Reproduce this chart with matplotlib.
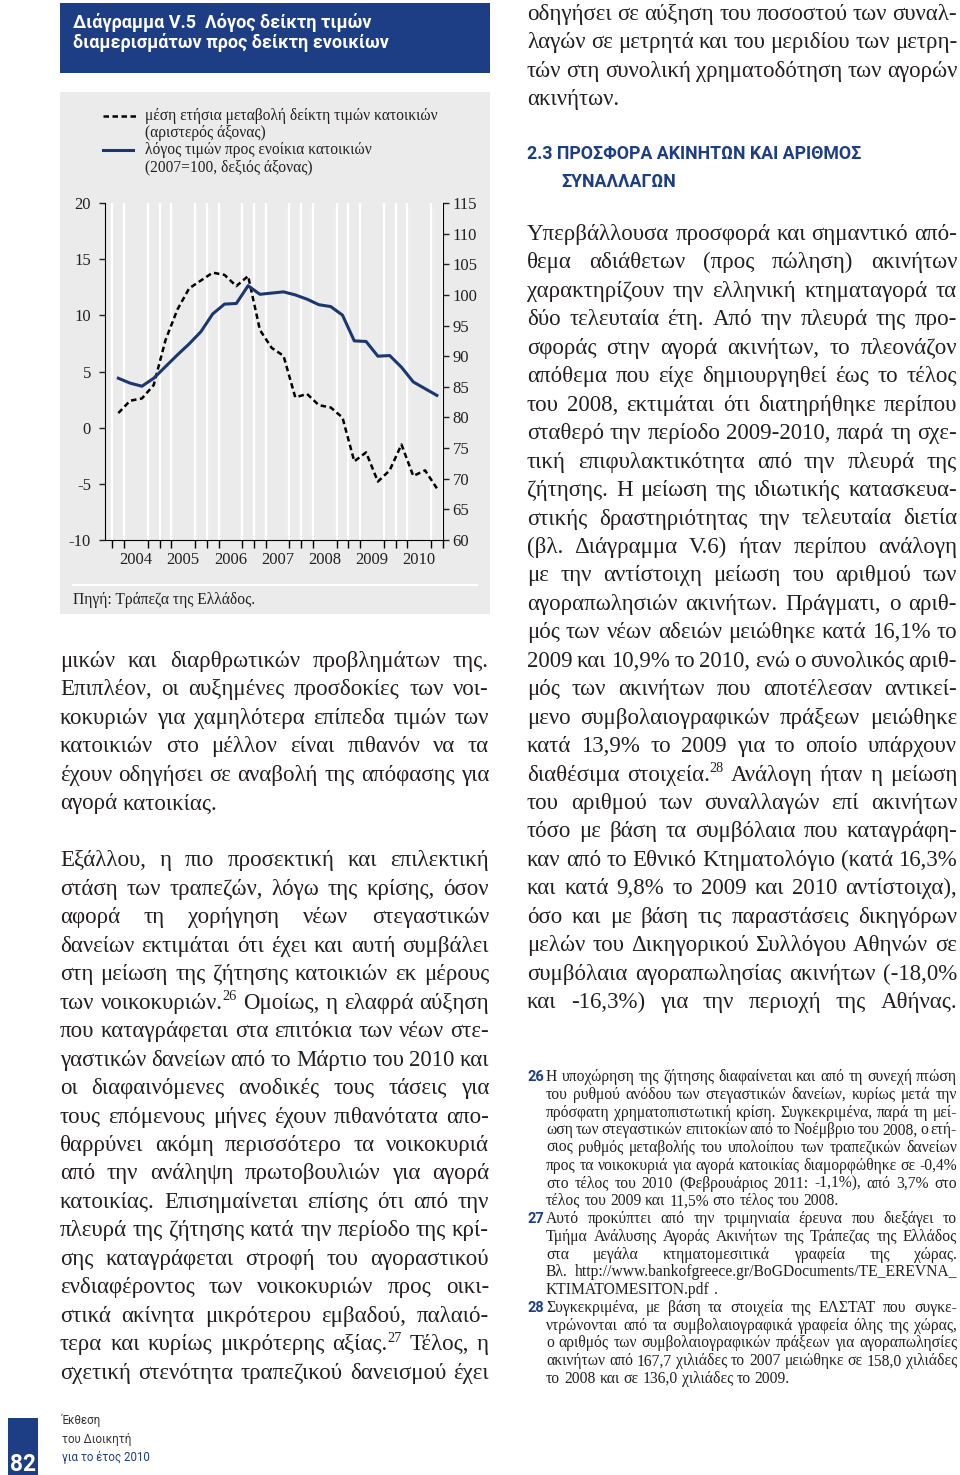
import matplotlib
matplotlib.use('Agg')
import matplotlib.pyplot as plt
from matplotlib.patches import Rectangle
from matplotlib.font_manager import FontProperties

plt.rcParams['font.family'] = ['Liberation Serif', 'DejaVu Serif']
plt.rcParams['axes.unicode_minus'] = False

BLUE = '#1d3e84'
LINE_BLUE = '#1b3770'
PANEL = '#ebebeb'
INK = '#231f20'
SERIF = ['Liberation Serif', 'DejaVu Serif']
NARROW = ['Liberation Sans Narrow', 'Roboto', 'DejaVu Sans']

# chart data, quarterly 2004Q1 - 2010Q4
quarters = list(range(28))
years = ['2004', '2005', '2006', '2007', '2008', '2009', '2010']
price_change = [1.3, 2.4, 2.6, 3.8, 7.8, 10.5, 12.4, 13.1, 13.8, 13.6, 12.6, 13.5,
                8.7, 7.1, 6.4, 2.7, 3.0, 2.0, 1.8, 0.9, -3.0, -2.2, -4.8, -3.8,
                -1.5, -4.3, -3.8, -5.4]
price_rent = [86.4, 85.6, 85.1, 86.4, 88.3, 90.2, 92.0, 94.0, 96.9, 98.5, 98.6, 101.5,
              100.1, 100.3, 100.5, 100.0, 99.3, 98.4, 98.1, 96.7, 92.5, 92.4, 90.0, 90.1,
              88.2, 85.8, 84.7, 83.6]
left_ticks = [-10, -5, 0, 5, 10, 15, 20]
right_ticks = [60, 65, 70, 75, 80, 85, 90, 95, 100, 105, 110, 115]

chart_title = ['Διάγραμμα V.5  Λόγος δείκτη τιμών',
               'διαμερισμάτων προς δείκτη ενοικίων']
legend_dashed = ['μέση ετήσια μεταβολή δείκτη τιμών κατοικιών', '(αριστερός άξονας)']
legend_solid = ['λόγος τιμών προς ενοίκια κατοικιών', '(2007=100, δεξιός άξονας)']
source = 'Πηγή: Τράπεζα της Ελλάδος.'

left_par1 = [
    'μικών και διαρθρωτικών προβλημάτων της.',
    'Επιπλέον, οι αυξημένες προσδοκίες των νοι-',
    'κοκυριών για χαμηλότερα επίπεδα τιμών των',
    'κατοικιών στο μέλλον είναι πιθανόν να τα',
    'έχουν οδηγήσει σε αναβολή της απόφασης για',
    'αγορά κατοικίας.',
]
left_par2 = [
    'Εξάλλου, η πιο προσεκτική και επιλεκτική',
    'στάση των τραπεζών, λόγω της κρίσης, όσον',
    'αφορά τη χορήγηση νέων στεγαστικών',
    'δανείων εκτιμάται ότι έχει και αυτή συμβάλει',
    'στη μείωση της ζήτησης κατοικιών εκ μέρους',
    'των νοικοκυριών.^26 Ομοίως, η ελαφρά αύξηση',
    'που καταγράφεται στα επιτόκια των νέων στε-',
    'γαστικών δανείων από το Μάρτιο του 2010 και',
    'οι διαφαινόμενες ανοδικές τους τάσεις για',
    'τους επόμενους μήνες έχουν πιθανότατα απο-',
    'θαρρύνει ακόμη περισσότερο τα νοικοκυριά',
    'από την ανάληψη πρωτοβουλιών για αγορά',
    'κατοικίας. Επισημαίνεται επίσης ότι από την',
    'πλευρά της ζήτησης κατά την περίοδο της κρί-',
    'σης καταγράφεται στροφή του αγοραστικού',
    'ενδιαφέροντος των νοικοκυριών προς οικι-',
    'στικά ακίνητα μικρότερου εμβαδού, παλαιό-',
    'τερα και κυρίως μικρότερης αξίας.^27 Τέλος, η',
    'σχετική στενότητα τραπεζικού δανεισμού έχει',
]
right_top = [
    'οδηγήσει σε αύξηση του ποσοστού των συναλ-',
    'λαγών σε μετρητά και του μεριδίου των μετρη-',
    'τών στη συνολική χρηματοδότηση των αγορών',
    'ακινήτων.',
]
heading = ['2.3 ΠΡΟΣΦΟΡΑ ΑΚΙΝΗΤΩΝ ΚΑΙ ΑΡΙΘΜΟΣ', 'ΣΥΝΑΛΛΑΓΩΝ']
right_body = [
    'Υπερβάλλουσα προσφορά και σημαντικό από-',
    'θεμα αδιάθετων (προς πώληση) ακινήτων',
    'χαρακτηρίζουν την ελληνική κτηματαγορά τα',
    'δύο τελευταία έτη. Από την πλευρά της προ-',
    'σφοράς στην αγορά ακινήτων, το πλεονάζον',
    'απόθεμα που είχε δημιουργηθεί έως το τέλος',
    'του 2008, εκτιμάται ότι διατηρήθηκε περίπου',
    'σταθερό την περίοδο 2009-2010, παρά τη σχε-',
    'τική επιφυλακτικότητα από την πλευρά της',
    'ζήτησης. Η μείωση της ιδιωτικής κατασκευα-',
    'στικής δραστηριότητας την τελευταία διετία',
    '(βλ. Διάγραμμα V.6) ήταν περίπου ανάλογη',
    'με την αντίστοιχη μείωση του αριθμού των',
    'αγοραπωλησιών ακινήτων. Πράγματι, ο αριθ-',
    'μός των νέων αδειών μειώθηκε κατά 16,1% το',
    '2009 και 10,9% το 2010, ενώ ο συνολικός αριθ-',
    'μός των ακινήτων που αποτέλεσαν αντικεί-',
    'μενο συμβολαιογραφικών πράξεων μειώθηκε',
    'κατά 13,9% το 2009 για το οποίο υπάρχουν',
    'διαθέσιμα στοιχεία.^28 Ανάλογη ήταν η μείωση',
    'του αριθμού των συναλλαγών επί ακινήτων',
    'τόσο με βάση τα συμβόλαια που καταγράφη-',
    'καν από το Εθνικό Κτηματολόγιο (κατά 16,3%',
    'και κατά 9,8% το 2009 και 2010 αντίστοιχα),',
    'όσο και με βάση τις παραστάσεις δικηγόρων',
    'μελών του Δικηγορικού Συλλόγου Αθηνών σε',
    'συμβόλαια αγοραπωλησίας ακινήτων (-18,0%',
    'και -16,3%) για την περιοχή της Αθήνας.',
]
footnotes = [
    ('26', [
        'Η υποχώρηση της ζήτησης διαφαίνεται και από τη συνεχή πτώση',
        'του ρυθμού ανόδου των στεγαστικών δανείων, κυρίως μετά την',
        'πρόσφατη χρηματοπιστωτική κρίση. Συγκεκριμένα, παρά τη μεί-',
        'ωση των στεγαστικών επιτοκίων από το Νοέμβριο του 2008, ο ετή-',
        'σιος ρυθμός μεταβολής του υπολοίπου των τραπεζικών δανείων',
        'προς τα νοικοκυριά για αγορά κατοικίας διαμορφώθηκε σε -0,4%',
        'στο τέλος του 2010 (Φεβρουάριος 2011: -1,1%), από 3,7% στο',
        'τέλος του 2009 και 11,5% στο τέλος του 2008.',
    ]),
    ('27', [
        'Αυτό προκύπτει από την τριμηνιαία έρευνα που διεξάγει το',
        'Τμήμα Ανάλυσης Αγοράς Ακινήτων της Τράπεζας της Ελλάδος',
        'στα μεγάλα κτηματομεσιτικά γραφεία της χώρας.',
        'Βλ. http://www.bankofgreece.gr/BoGDocuments/TE_EREVNA_',
        'KTIMATOMESITON.pdf .',
    ]),
    ('28', [
        'Συγκεκριμένα, με βάση τα στοιχεία της ΕΛΣΤΑΤ που συγκε-',
        'ντρώνονται από τα συμβολαιογραφικά γραφεία όλης της χώρας,',
        'ο αριθμός των συμβολαιογραφικών πράξεων για αγοραπωλησίες',
        'ακινήτων από 167,7 χιλιάδες το 2007 μειώθηκε σε 158,0 χιλιάδες',
        'το 2008 και σε 136,0 χιλιάδες το 2009.',
    ]),
]
footer = ['Έκθεση', 'του Διοικητή', 'για το έτος 2010']
page_no = '82'

fig = plt.figure(figsize=(9.6, 14.75), dpi=100)
page = fig.add_axes([0, 0, 1, 1])
page.set_xlim(0, 960)
page.set_ylim(1475, 0)
page.axis('off')
rend = fig.canvas.get_renderer()


def width(s, fp):
    return rend.get_text_width_height_descent(s, fp, ismath=False)[0]


def fitted(s, target, **kw):
    fp = FontProperties(size=10, **kw)
    fp.set_size(10 * target / width(s, fp))
    return fp


def sup_of(fp):
    sp = fp.copy()
    sp.set_size(fp.get_size() * 0.62)
    return sp


def word_widths(words, fp):
    sp = sup_of(fp)
    out = []
    for w in words:
        base, _, sup = w.partition('^')
        out.append(width(base, fp) + (width(sup, sp) if sup else 0))
    return out


def space_of(fp):
    return width('a a', fp) - width('aa', fp)


def fit_size(lines, avail, family, squeeze=0.75):
    # largest size at which every justified line fits with slightly squeezed spaces
    fp = FontProperties(family=family, size=10)
    sp = space_of(fp) * squeeze
    best = 100
    for line in lines:
        words = line.split()
        natural = sum(word_widths(words, fp)) + sp * (len(words) - 1)
        best = min(best, 10 * avail / natural)
    return best


def put_line(line, x0, x1, y, fp, justify=True, color=INK):
    sp = sup_of(fp)
    words = line.split()
    ws = word_widths(words, fp)
    if justify and len(words) > 1:
        gap = (x1 - x0 - sum(ws)) / (len(words) - 1)
    else:
        gap = space_of(fp)
    x = x0
    for w, wd in zip(words, ws):
        base, _, sup = w.partition('^')
        page.text(x, y, base, fontproperties=fp, va='baseline', color=color)
        if sup:
            page.text(x + width(base, fp), y - fp.get_size() * 0.5, sup,
                      fontproperties=sp, va='baseline', color=color)
        x += wd + gap


def put_par(lines, x0, x1, y0, step, fp, last_left=True):
    for i, line in enumerate(lines):
        put_line(line, x0, x1, y0 + i * step, fp,
                 justify=not (last_left and i == len(lines) - 1))


# title box and chart panel
page.add_patch(Rectangle((60, 3), 430, 70, color=BLUE, lw=0))
page.add_patch(Rectangle((60, 92), 430, 522, color=PANEL, lw=0))
page.plot([73, 477], [585, 585], color='white', lw=1.5)

tfp = fitted(chart_title[0], 299, family=NARROW, weight='bold')
page.text(73, 28, chart_title[0], fontproperties=tfp, color='white', va='baseline')
page.text(73, 48, chart_title[1], fontproperties=tfp, color='white', va='baseline')

lfp = FontProperties(family=SERIF, size=11.2)
page.plot([103, 137], [116, 116], color='black', lw=1.8, ls=(0, (2.2, 1.4)))
page.plot([103, 133], [150, 150], color=LINE_BLUE, lw=2.2)
for i, s in enumerate(legend_dashed + legend_solid):
    page.text(145, 120 + 17 * i, s, fontproperties=lfp, color=INK, va='baseline')
page.text(73, 604, source, fontproperties=lfp, color=INK, va='baseline')

# chart
ax = fig.add_axes([105 / 960, 1 - 540 / 1475, 338 / 960, 337 / 1475])
ax.set_facecolor('none')
ax.plot(quarters, price_change, color='black', lw=1.8, ls=(0, (2.2, 1.4)), zorder=3)
ax.set_xlim(-1.13, 27.52)
ax.set_ylim(-10, 20)
ax.set_yticks(left_ticks)
ax.set_yticklabels([str(v) for v in left_ticks])
ax.set_xticks([4 * k + 1.5 for k in range(len(years))])
ax.set_xticklabels(years)
ax.set_xticks([q - 0.5 for q in range(29)], minor=True)
ax.grid(True, which='minor', axis='x', color='white', lw=1.6)
ax.set_axisbelow(True)
for pos in ['top', 'right']:
    ax.spines[pos].set_visible(False)
ax.tick_params(axis='y', direction='out', length=4, width=1, pad=6,
               labelsize=12, colors=INK)
ax.tick_params(axis='x', which='major', length=0, pad=9, labelsize=12, colors=INK)
ax.tick_params(axis='x', which='minor', direction='out', length=6, width=1)

ax2 = ax.twinx()
ax2.plot(quarters, price_rent, color=LINE_BLUE, lw=2.2)
ax2.set_ylim(60, 115)
ax2.set_yticks(right_ticks)
for pos in ['top', 'left', 'bottom']:
    ax2.spines[pos].set_visible(False)
ax2.tick_params(axis='y', direction='out', length=4, width=1, pad=3,
                labelsize=12, colors=INK)

# body text
body_lines = left_par1[:-1] + left_par2 + right_top[:-1] + right_body
bfp = FontProperties(family=SERIF, size=fit_size(body_lines, 429, SERIF))
put_par(left_par1, 60, 489, 667, 28.47, bfp)
put_par(left_par2, 60, 489, 667 + 7 * 28.47, 28.47, bfp, last_left=False)
put_par(right_top, 527, 957, 20, 28.45, bfp)
put_par(right_body, 527, 957, 240, 28.45, bfp, last_left=False)

hfp = fitted(heading[0], 335, family=NARROW, weight='bold')
page.text(527, 159, heading[0], fontproperties=hfp, color=BLUE, va='baseline')
page.text(561, 187, heading[1], fontproperties=hfp, color=BLUE, va='baseline')

# footnotes
fn_lines = [l for _, lines in footnotes for l in lines[:-1]]
ffp = FontProperties(family=SERIF, size=fit_size(fn_lines, 411, SERIF))
nfp = FontProperties(family=NARROW, size=10.5, weight='bold')
y = 1081
for num, lines in footnotes:
    page.text(527, y, num, fontproperties=nfp, color=BLUE, va='baseline')
    put_par(lines, 546, 957, y, 17.76, ffp)
    y += 17.76 * len(lines)

# page footer
page.add_patch(Rectangle((8, 1418), 30, 57, color=BLUE, lw=0))
pfp = fitted(page_no, 26, family=NARROW, weight='bold')
page.text(23, 1471, page_no, fontproperties=pfp, color='white', ha='center', va='baseline')
ffp2 = fitted(footer[2], 88, family=NARROW)
for i, s in enumerate(footer):
    page.text(62, 1424 + 18.5 * i, s, fontproperties=ffp2,
              color=BLUE if i == 2 else '#333333', va='baseline')

fig.savefig('out.png', dpi=100)
